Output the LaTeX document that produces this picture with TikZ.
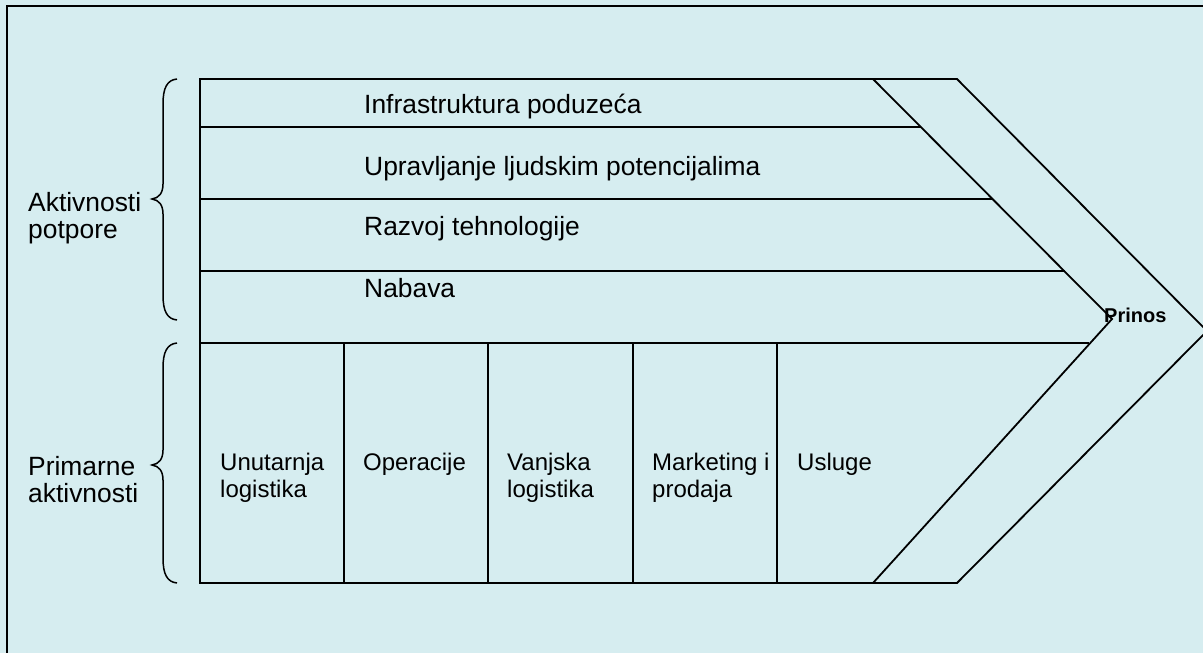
\documentclass[tikz,border=0pt]{standalone}
\usepackage{fontspec}
\setmainfont{Liberation Sans}
\usetikzlibrary{calc}

\definecolor{bgcyan}{RGB}{214,237,240}

\tikzset{
  chain line/.style={line width=1.8pt, line join=miter},
  brace line/.style={line width=1.5pt},
  big label/.style={anchor=base west, inner sep=0pt, align=left,
    font=\fontsize{26.4}{27}\selectfont},
  box label/.style={anchor=base west, inner sep=0pt, align=left,
    font=\fontsize{24}{27}\selectfont},
}

\begin{document}
\begin{tikzpicture}[x=1pt, y=-1pt]
  \useasboundingbox (0,0) rectangle (1203,653);
  \fill[bgcyan] (0,0) rectangle (1203,653);
  \draw[chain line] (7,653) |- (1203,6);

  % vanjski obris lanca
  \coordinate (tl) at (200,79);
  \coordinate (bl) at (200,583);
  \coordinate (otop) at (957,79);
  \coordinate (obot) at (957,583);
  \coordinate (otip) at (1207,331);
  \coordinate (itop) at (873,79);
  \coordinate (ibot) at (873,583);
  \coordinate (itip) at (1112,319);

  \draw[chain line] (tl) -- (otop) -- (otip) -- (obot) -- (bl) -- cycle;
  \draw[chain line] (itop) -- (itip) -- (ibot);

  \foreach \y/\x in {127/921, 199/993, 271/1065, 343/1089}
    { \draw[chain line] (200,\y) -- (\x,\y); }
  \foreach \x in {344,488,633,777}
    { \draw[chain line] (\x,343) -- (\x,583); }

  % aktivnosti potpore
  \node[big label] (infra) at (364,113) {Infrastruktura poduzeća};
  \node[big label] (ljudi) at (364,175) {Upravljanje ljudskim potencijalima};
  \node[big label] (tehno) at (364,235) {Razvoj tehnologije};
  \node[big label] (nabava) at (364,297) {Nabava};

  % primarne aktivnosti (base = zadnji redak)
  \node[box label] (ulog) at (220,497) {Unutarnja\\logistika};
  \node[box label] (oper) at (363,470) {Operacije};
  \node[box label] (vlog) at (507,497) {Vanjska\\logistika};
  \node[box label] (mark) at (652,497) {Marketing i\\prodaja};
  \node[box label] (uslu) at (797,470) {Usluge};

  \node[anchor=base west, inner sep=0pt, font=\fontsize{20}{20}\selectfont\bfseries]
    (prinos) at (1104,322) {Prinos};

  % zagrade
  \draw[brace line] (177,79) .. controls (167,80) and (163,88) .. (163,104)
    -- (163,184) .. controls (163,193) and (159,198) .. (152,199)
    .. controls (159,200) and (163,205) .. (163,214)
    -- (163,295) .. controls (163,311) and (167,319) .. (177,320);
  \draw[brace line] (177,343) .. controls (167,344) and (163,352) .. (163,368)
    -- (163,450) .. controls (163,459) and (159,464) .. (152,465)
    .. controls (159,466) and (163,471) .. (163,480)
    -- (163,558) .. controls (163,574) and (167,582) .. (177,583);
  \node[big label] (potpora) at (28,238) {Aktivnosti\\potpore};
  \node[big label] (primarne) at (28,502) {Primarne\\aktivnosti};
\end{tikzpicture}
\end{document}
